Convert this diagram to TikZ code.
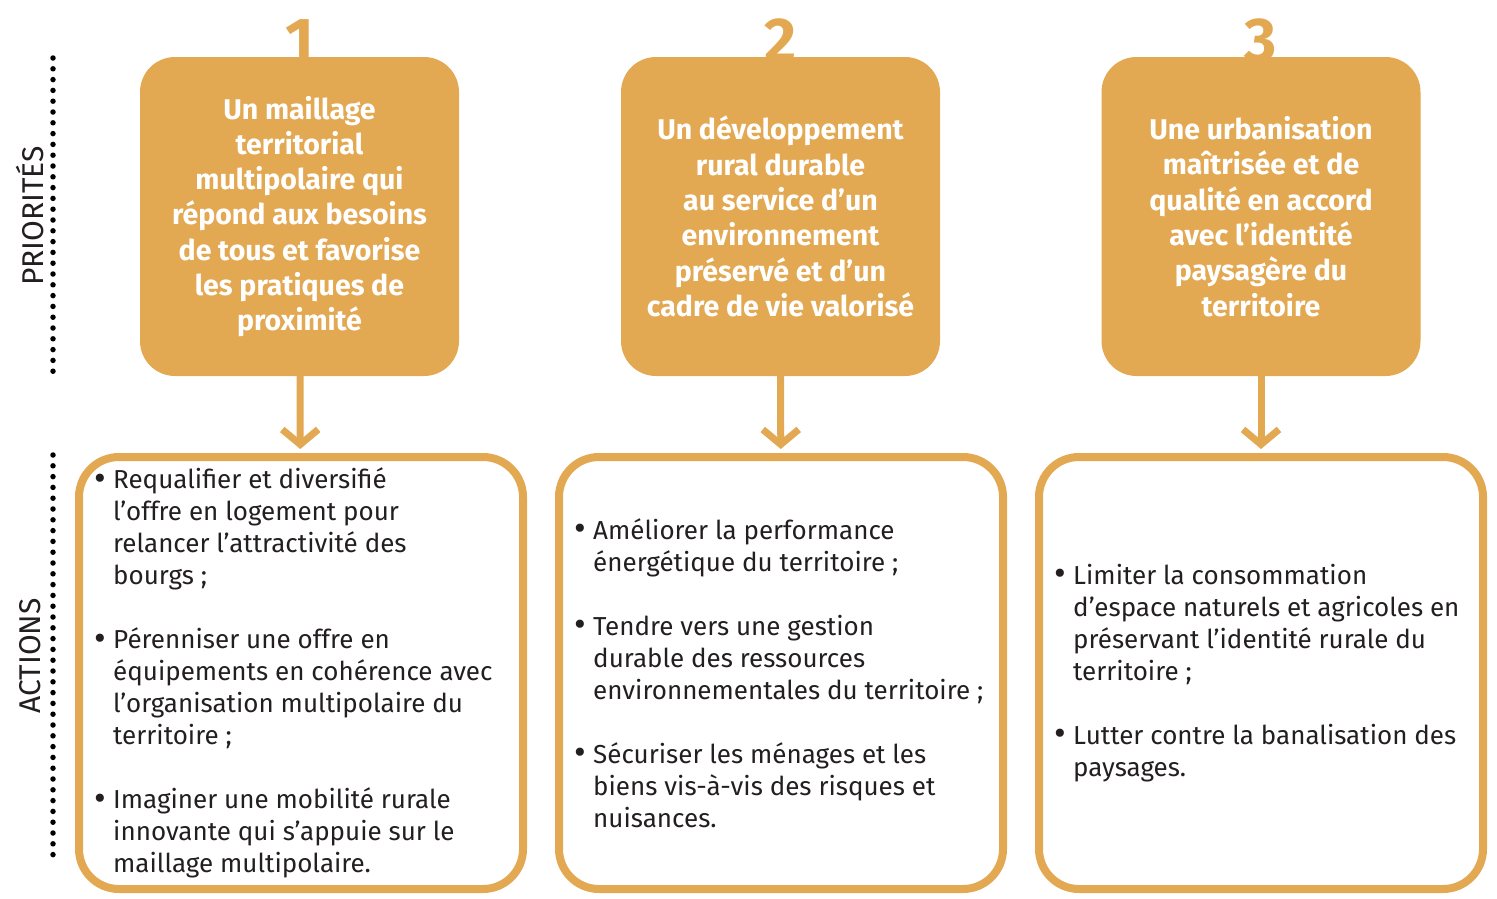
\documentclass[tikz,border=0pt]{standalone}
\usepackage{fontspec}
\setmainfont{Fira Sans}
\usepackage{tikz}
\usetikzlibrary{arrows.meta}

\definecolor{ocre}{HTML}{E3A852}
\definecolor{encre}{HTML}{231F20}

\newcommand{\puce}{\llap{\raisebox{-1.5pt}{\fontsize{36}{32}\selectfont\textbullet}\hspace{7pt}}}

\tikzset{
  prio/.style={rectangle, rounded corners=35pt, fill=ocre, minimum width=319pt, minimum height=319pt,
    text=white, align=center, font=\fontsize{28.5}{35.3}\selectfont\bfseries},
  action/.style={rectangle, rounded corners=40pt, draw=ocre, line width=8pt, minimum width=444pt, minimum height=432pt},
  actiontext/.style={anchor=west, align=left, text=encre, inner sep=0pt, font=\fontsize{26}{32}\selectfont},
  numero/.style={anchor=base, inner sep=0pt, text=ocre, font=\fontsize{62}{62}\selectfont\bfseries},
  fleche/.style={draw=ocre, line width=7pt, -{Straight Barb[length=15pt,width=36pt]}, shorten >=4pt},
  pointille/.style={line width=5.5pt, line cap=round, dash pattern=on 0pt off 10.8pt},
  titre/.style={rotate=90, text=encre, font=\fontsize{30}{30}\selectfont}
}

\begin{document}
\begin{tikzpicture}[x=1pt,y=-1pt]
    \useasboundingbox (0,0) rectangle (1497,898);

    % priorites
    \node[prio] (p1) at (299.5,216.5) {Un maillage\\territorial\\multipolaire qui\\répond aux besoins\\de tous et favorise\\les pratiques de\\proximité};
    \node[prio] (p2) at (780.5,216.5) {Un développement\\rural durable\\au service d’un\\environnement\\préservé et d’un\\cadre de vie valorisé};
    \node[prio] (p3) at (1261,216.5) {Une urbanisation\\maîtrisée et de\\qualité en accord\\avec l’identité\\paysagère du\\territoire};

    % actions
    \node[action] (a1) at (301,673) {};
    \node[action] (a2) at (781,673) {};
    \node[action] (a3) at (1261,673) {};

    \node[actiontext] (t1) at ([xshift=38pt]a1.west) {\puce Requalifier et diversifié\\l’offre en logement pour\\relancer l’attractivité des\\bourgs ;\\[32pt]
      \puce Pérenniser une offre en\\équipements en cohérence avec\\l’organisation multipolaire du\\territoire ;\\[32pt]
      \puce Imaginer une mobilité rurale\\innovante qui s’appuie sur le\\maillage multipolaire.};
    \node[actiontext] (t2) at ([xshift=38pt]a2.west) {\puce Améliorer la performance\\énergétique du territoire ;\\[32pt]
      \puce Tendre vers une gestion\\durable des ressources\\environnementales du territoire ;\\[32pt]
      \puce Sécuriser les ménages et les\\biens vis-à-vis des risques et\\nuisances.};
    \node[actiontext] (t3) at ([xshift=38pt]a3.west) {\puce Limiter la consommation\\d’espace naturels et agricoles en\\préservant l’identité rurale du\\territoire ;\\[32pt]
      \puce Lutter contre la banalisation des\\paysages.};

    \foreach \i in {1,2,3} {
        \node[numero] (n\i) at ([yshift=-5pt]p\i.north) {\i};
        \draw[fleche] (p\i) -- (a\i);
    }

    % legende a gauche
    \node[titre] (lp) at (30,216) {PRIORITÉS};
    \node[titre] (la) at (30,656) {ACTIONS};
    \coordinate (d1) at (53,58);
    \coordinate (d2) at (53,374);
    \coordinate (d3) at (53,455);
    \coordinate (d4) at (53,855);
    \draw[pointille] (d1) -- (d2);
    \draw[pointille] (d3) -- (d4);
\end{tikzpicture}
\end{document}
